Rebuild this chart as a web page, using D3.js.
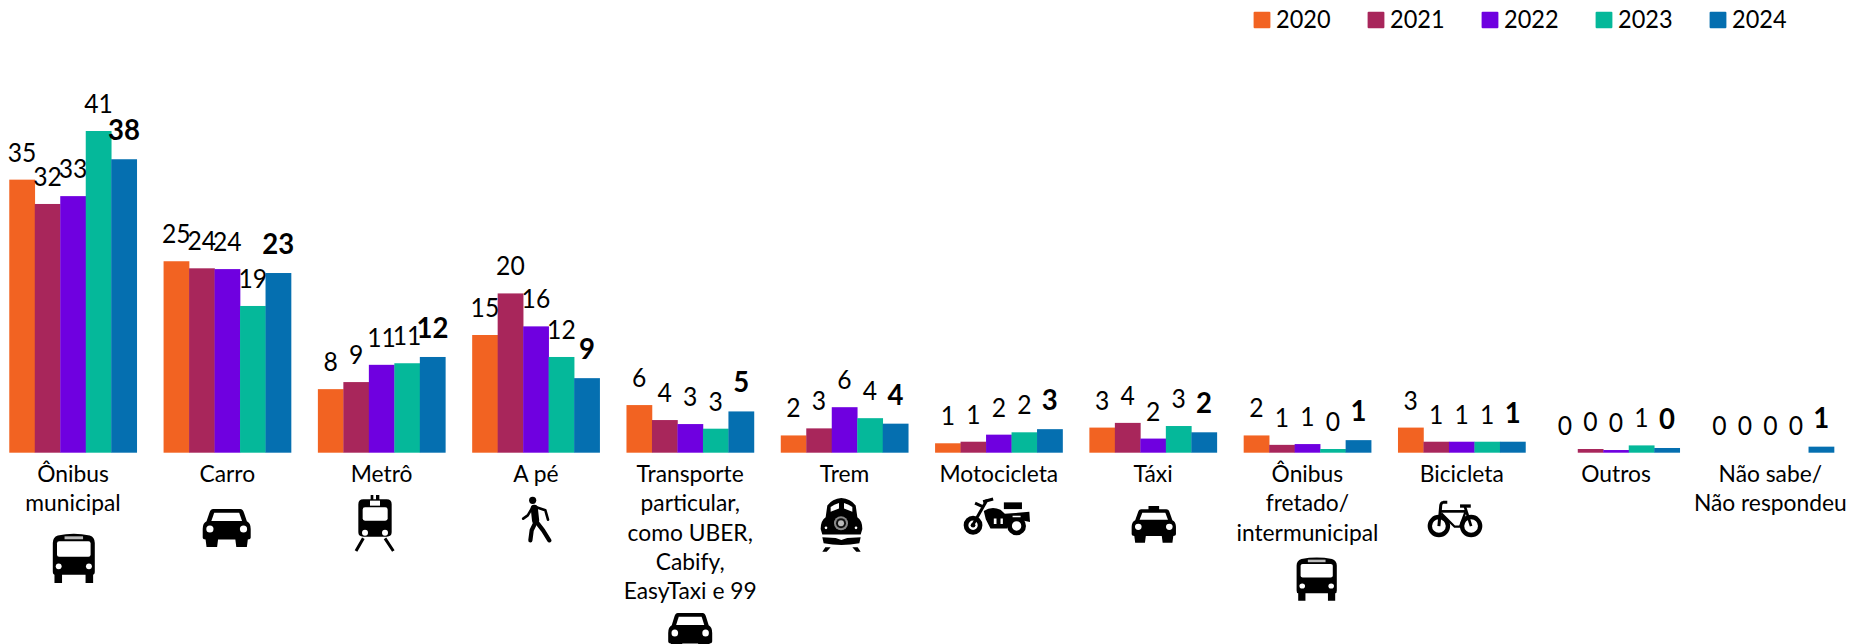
<!DOCTYPE html>
<html>
<head>
<meta charset="utf-8">
<script src="https://cdn.jsdelivr.net/npm/d3@7"></script>
<style>
html, body { margin: 0; padding: 0; background: #fff; overflow: hidden; }
text { font-family: Lato, "Open Sans", sans-serif; fill: #000; }
</style>
</head>
<body>
<svg id="chart" width="1850" height="644"></svg>
<script>
const categories = ["Ônibus|municipal", "Carro", "Metrô", "A pé",
    "Transporte|particular,|como UBER,|Cabify,|EasyTaxi e 99", "Trem", "Motocicleta", "Táxi",
    "Ônibus|fretado/|intermunicipal", "Bicicleta", "Outros", "Não sabe/|Não respondeu"];
const years = ["2020", "2021", "2022", "2023", "2024"];
const colors = ["#F26322", "#A8265B", "#6F00E0", "#05B89A", "#056FB0"];

// altura das barras
const s2020 = [34.8, 24.4, 8.1, 15.0, 6.07, 2.2, 1.2, 3.2, 2.2, 3.2, 0, 0];
const s2021 = [31.7, 23.5, 9.0, 20.3, 4.16, 3.1, 1.4, 3.8, 1.0, 1.4, 0.47, 0];
const s2022 = [32.7, 23.4, 11.2, 16.1, 3.65, 5.8, 2.3, 1.8, 1.1, 1.4, 0.34, 0];
const s2023 = [41.0, 18.7, 11.4, 12.2, 3.06, 4.4, 2.6, 3.4, 0.47, 1.4, 0.93, 0];
const s2024 = [37.4, 22.9, 12.2, 9.5, 5.26, 3.7, 3.0, 2.6, 1.6, 1.4, 0.6, 0.77];
const series = [s2020, s2021, s2022, s2023, s2024];

// rotulos como impressos
const l2020 = [35, 25, 8, 15, 6, 2, 1, 3, 2, 3, 0, 0];
const l2021 = [32, 24, 9, 20, 4, 3, 1, 4, 1, 1, 0, 0];
const l2022 = [33, 24, 11, 16, 3, 6, 2, 2, 1, 1, 0, 0];
const l2023 = [41, 19, 11, 12, 3, 4, 2, 3, 0, 1, 1, 0];
const l2024 = [38, 23, 12, 9, 5, 4, 3, 2, 1, 1, 0, 1];
const labels = [l2020, l2021, l2022, l2023, l2024];

const svg = d3.select("#chart");
const baseline = 452.7;

const x = d3.scaleBand().domain(categories).range([-4.15, 1847.45]).paddingInner(0.174).paddingOuter(0.087);
const xYear = d3.scaleBand().domain(years).range([0, x.bandwidth()]);
const y = d3.scaleLinear().domain([0, 41]).range([baseline, 131]);

// barras e rotulos
const groups = svg.append("g").selectAll("g")
    .data(categories)
    .enter().append("g")
    .attr("transform", d => "translate(" + x(d) + ",0)");

groups.selectAll("rect")
    .data((d, i) => years.map((yr, j) => ({ yr, j, v: series[j][i] })))
    .enter().append("rect")
    .attr("x", d => xYear(d.yr))
    .attr("y", d => y(d.v))
    .attr("width", xYear.bandwidth() + 0.3)
    .attr("height", d => baseline - y(d.v))
    .style("fill", d => colors[d.j]);

groups.selectAll("text")
    .data((d, i) => years.map((yr, j) => ({ yr, j, v: series[j][i], l: labels[j][i] })))
    .enter().append("text")
    .attr("transform", d => "translate(" + (xYear(d.yr) + xYear.bandwidth() / 2) + "," + (y(d.v) - (d.j == 4 ? 19 : 18)) + ") scale(0.95,1)")
    .attr("text-anchor", "middle")
    .style("font-size", d => d.j == 4 ? "29px" : "26px")
    .style("font-weight", d => d.j == 4 ? 700 : 400)
    .text(d => d.l);

// eixo de categorias, nomes em varias linhas
const axis = svg.append("g")
    .attr("transform", "translate(0," + baseline + ")")
    .call(d3.axisBottom(x).tickSize(0).tickFormat(""));
axis.select(".domain").remove();
axis.selectAll(".tick text").remove();
axis.selectAll(".tick").append("text")
    .attr("text-anchor", "middle")
    .style("font-size", "22.8px")
    .selectAll("tspan")
    .data(d => d.split("|"))
    .enter().append("tspan")
    .attr("x", 0)
    .attr("y", (d, i) => 29.5 + i * 29.2)
    .text(d => d);

// legenda
const legendX = d3.scalePoint().domain(years).range([1253.6, 1709.6]);
const legend = svg.append("g").selectAll("g")
    .data(years)
    .enter().append("g")
    .attr("transform", d => "translate(" + legendX(d) + ",0)");
legend.append("rect")
    .attr("y", 11.7).attr("width", 16.8).attr("height", 16.6).attr("rx", 1)
    .style("fill", (d, i) => colors[i]);
legend.append("text")
    .attr("transform", "translate(22.5,28.3) scale(0.96,1)")
    .style("font-size", "24.5px")
    .text(d => d);

// icones
const defs = svg.append("defs");
defs.append("filter").attr("id", "soft")
    .append("feGaussianBlur").attr("stdDeviation", 0.5);

function carShape(g) {
    g.append("path").attr("d", "M22 0L78 0Q84 0 86 8L92 26Q100 30 100 42L100 60Q100 64 94 64L92 80L70 80L68 64L32 64L30 80L8 80L6 64Q0 64 0 60L0 42Q0 30 8 26L14 8Q16 0 22 0Z");
    g.append("path").attr("d", "M24 8L76 8L82 25L18 25Z").style("fill", "#fff");
    g.selectAll("circle").data([15, 85]).enter().append("circle")
        .attr("cx", d => d).attr("cy", 42).attr("r", 7.5).style("fill", "#fff");
}

const iconDraw = {
    bus: [100, 120, g => {
        g.append("path").attr("d", "M12 6Q50 -2 88 6Q100 10 100 24L100 92Q100 100 96 100L96 120L78 120L78 100L22 100L22 120L4 120L4 100Q0 100 0 92L0 24Q0 10 12 6Z");
        g.append("rect").attr("x", 10).attr("y", 20).attr("width", 80).attr("height", 37).attr("rx", 5).style("fill", "#fff");
        g.append("rect").attr("x", 28).attr("y", 8).attr("width", 44).attr("height", 7).style("fill", "#bbb");
        g.selectAll("circle").data([14, 86]).enter().append("circle")
            .attr("cx", d => d).attr("cy", 80).attr("r", 7).style("fill", "#fff");
    }],
    car: [100, 80, carShape],
    taxi: [100, 88, g => {
        g.append("rect").attr("x", 38).attr("width", 24).attr("height", 12);
        carShape(g.append("g").attr("transform", "translate(0,8)"));
    }],
    metro: [120, 170, g => {
        g.append("path").attr("d", "M47 0h8v13h-8zM63 0h10v13h-10zM25 13L95 13Q110 13 110 28L110 112Q110 125 95 125L25 125Q10 125 10 112L10 28Q10 13 25 13Z");
        g.append("rect").attr("x", 23).attr("y", 37).attr("width", 75).attr("height", 40).attr("rx", 7).style("fill", "#fff");
        g.append("rect").attr("x", 45).attr("y", 17).attr("width", 30).attr("height", 15).style("fill", "#fff");
        g.selectAll("circle").data([30, 90]).enter().append("circle")
            .attr("cx", d => d).attr("cy", 113).attr("r", 9).style("fill", "#fff");
        g.append("path").attr("d", "M25 130L3 168M90 130L115 168")
            .style("stroke", "#000").style("stroke-width", 9).style("fill", "none");
    }],
    walker: [92, 135, g => {
        g.append("circle").attr("cx", 33).attr("cy", 10).attr("r", 11);
        const limb = (d, w) => g.append("path").attr("d", d)
            .style("stroke", "#000").style("stroke-width", w).style("fill", "none")
            .style("stroke-linecap", "round").style("stroke-linejoin", "round");
        limb("M38 34L42 70", 22);
        limb("M32 32L18 55L4 65", 8);
        limb("M42 30L72 40L80 68", 8);
        limb("M42 76L30 100L26 130", 13);
        limb("M46 76L65 100L84 130", 13);
    }],
    train: [125, 163, g => {
        g.append("path").attr("d", "M62 3Q90 5 105 25L110 60Q125 70 125 95L120 112L5 112L0 95Q0 70 15 60L20 25Q35 5 62 3Z");
        g.append("path").attr("d", "M30 30Q40 22 55 18L55 34L30 44ZM95 30Q85 22 70 18L70 34L95 44Z").style("fill", "#fff");
        g.append("circle").attr("cx", 61).attr("cy", 78).attr("r", 21).style("fill", "#888");
        g.append("circle").attr("cx", 61).attr("cy", 78).attr("r", 15).style("fill", "#111");
        g.append("circle").attr("cx", 61).attr("cy", 78).attr("r", 9).style("fill", "#bbb");
        g.selectAll(".side").data([16, 106]).enter().append("circle")
            .attr("cx", d => d).attr("cy", 92).attr("r", 4).style("fill", "#fff");
        g.append("path").attr("d", "M5 120L45 122L62 128L80 122L120 120L116 138Q62 148 9 138Z");
        g.append("path").attr("d", "M5 163L14 150L30 150L18 163ZM120 163L111 150L95 150L107 163Z");
    }],
    moto: [200, 107, g => {
        g.selectAll("circle.w").data([[30, 78], [160, 80]]).enter().append("circle")
            .attr("cx", d => d[0]).attr("cy", d => d[1]).attr("r", 21)
            .style("fill", "none").style("stroke", "#000").style("stroke-width", 14);
        g.append("circle").attr("cx", 30).attr("cy", 78).attr("r", 7);
        g.append("path").attr("d", "M72 2L30 76M36 12L62 24M60 8L90 0")
            .style("stroke", "#000").style("stroke-width", 9).style("fill", "none");
        g.append("path").attr("d", "M62 36Q85 20 112 32L125 44L198 38L200 68L178 64Q150 50 132 88L82 88L68 60Z");
        g.append("rect").attr("x", 122).attr("y", 10).attr("width", 54).attr("height", 20);
        g.append("path").attr("d", "M92 58h8v16h-8zM112 58h7v16h-7zM148 50h24v4h-24z").style("fill", "#fff");
    }],
    bike: [166, 108, g => {
        const line = (d, w) => g.append("path").attr("d", d)
            .style("stroke", "#000").style("stroke-width", w).style("fill", "none");
        g.selectAll("circle").data([35, 131]).enter().append("circle")
            .attr("cx", d => d).attr("cy", 76).attr("r", 27)
            .style("fill", "none").style("stroke", "#000").style("stroke-width", 13);
        line("M60 5L48 5Q40 6 40 20L35 76", 9);
        line("M40 32L114 32", 8);
        line("M98 16L130 16", 10);
        line("M112 16L131 76", 8);
        line("M42 38L82 78L98 78L114 34", 7);
    }]
};

// categoria, tipo, deslocamento do centro, topo, largura, altura
const iconCats = [categories[0], categories[1], categories[2], categories[3], categories[4], categories[5],
    categories[6], categories[7], categories[8], categories[9]];
const iconTypes = ["bus", "car", "metro", "walker", "car", "train", "moto", "taxi", "bus", "bike"];
const iconDx = [0.8, -0.6, -6.6, 1, 0, -3, -2.3, 0.7, 9.3, -6.7];
const iconTop = [533, 509, 495, 497, 613, 497, 499, 506, 556.7, 500.7];
const iconW = [42, 48, 40, 30, 44, 41.7, 67, 44.3, 40.2, 55.7];
const iconH = [50, 38, 56.7, 45, 38, 54.7, 36, 36.7, 44, 36];

iconCats.forEach((c, i) => {
    const [vw, vh, draw] = iconDraw[iconTypes[i]];
    const cx = x(c) + x.bandwidth() / 2 + iconDx[i];
    const g = svg.append("g")
        .attr("filter", "url(#soft)")
        .attr("transform", "translate(" + (cx - iconW[i] / 2) + "," + iconTop[i] + ") scale(" + iconW[i] / vw + "," + iconH[i] / vh + ")")
        .style("fill", "#000");
    draw(g);
});
</script>
</body>
</html>
